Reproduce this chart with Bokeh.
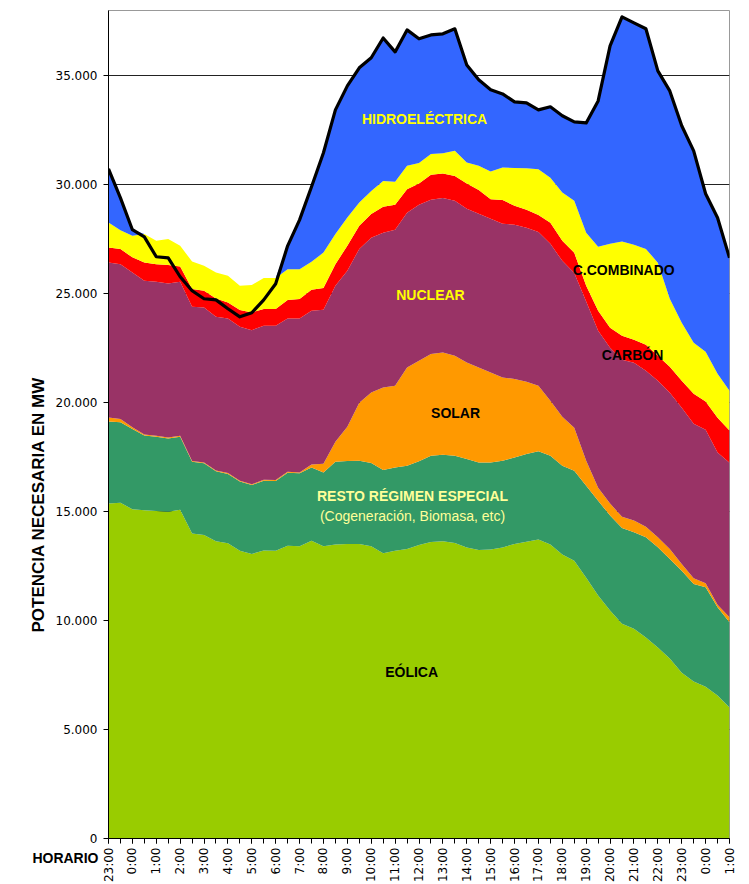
import math
from bokeh.plotting import figure
from bokeh.models import (ColumnDataSource, FixedTicker, Label, Range1d, LinearAxis, Title)
from bokeh.embed import file_html
from bokeh.resources import INLINE

# x-axis hour labels (one per hour, data every half hour)
HOUR_LABELS = ["23:00", "0:00", "1:00", "2:00", "3:00", "4:00", "5:00", "6:00", "7:00",
               "8:00", "9:00", "10:00", "11:00", "12:00", "13:00", "14:00", "15:00",
               "16:00", "17:00", "18:00", "19:00", "20:00", "21:00", "22:00", "23:00",
               "0:00", "1:00"]

# MW, half-hourly from 23:00 to 1:00 (53 points)
eolica = [15370, 15410, 15110, 15060, 15030, 15000, 15090, 14000, 13930, 13640, 13550, 13210,
          13060, 13220, 13210, 13440, 13410, 13670, 13410, 13490, 13520, 13520, 13410, 13090,
          13210, 13290, 13470, 13610, 13640, 13560, 13360, 13240, 13260, 13360, 13520, 13620,
          13720, 13490, 13030, 12750, 11970, 11150, 10460, 9860, 9630, 9220, 8760, 8260, 7610,
          7200, 6970, 6560, 6010]
resto = [3770, 3690, 3680, 3430, 3410, 3360, 3350, 3290, 3290, 3210, 3180, 3170, 3160, 3200,
         3200, 3350, 3350, 3360, 3390, 3800, 3810, 3820, 3820, 3820, 3820, 3820, 3840, 3960,
         3970, 4010, 4060, 4020, 4000, 3980, 3970, 4030, 4050, 4080, 4080, 4130, 4220, 4350,
         4360, 4390, 4420, 4610, 4610, 4570, 4680, 4480, 4560, 4050, 3910]
solar = [180, 150, 80, 50, 40, 40, 40, 40, 40, 40, 40, 40, 40, 40, 40, 40, 40, 130, 400, 920,
         1570, 2660, 3240, 3790, 3750, 4510, 4620, 4660, 4700, 4590, 4430, 4360, 4130, 3820,
         3600, 3310, 3010, 2520, 2250, 1970, 1150, 600, 550, 520, 540, 480, 450, 460, 310, 260,
         180, 120, 230]
nuclear = [7120, 7110, 7110, 7060, 7070, 7070, 7070, 7070, 7110, 7050, 7100, 7070, 7070, 7070,
           7080, 7040, 7070, 7060, 7070, 7160, 7160, 7060, 7100, 7100, 7160, 7100, 7150, 7080,
           7090, 7110, 7050, 7050, 7050, 7050, 7080, 7070, 7060, 7200, 7150, 7100, 7300, 7200,
           7150, 7200, 7240, 7160, 7190, 7170, 7170, 7100, 7050, 6980, 7100]
carbon = [680, 690, 690, 840, 810, 850, 700, 820, 770, 840, 730, 760, 810, 770, 770, 840, 890,
          960, 990, 990, 1140, 1060, 1090, 1190, 1140, 1080, 980, 1150, 1120, 1140, 1160, 1090,
          900, 1090, 870, 820, 780, 970, 920, 930, 730, 920, 920, 1100, 1060, 1190, 1150, 1190,
          1240, 1370, 1290, 1600, 1470]
ccombinado = [1150, 870, 990, 1300, 1070, 1190, 950, 1260, 1140, 1200, 1230, 1120, 1260, 1420,
              1420, 1420, 1370, 1290, 1630, 1380, 1300, 1070, 1060, 1190, 1060, 1070, 940, 950,
              930, 1150, 960, 1110, 1270, 1490, 1730, 1910, 2090, 2060, 2220, 2390, 2430, 2940,
              3850, 4330, 4360, 4400, 4260, 3120, 2660, 2340, 2290, 2020, 1830]
hidro = [2460, 1480, 280, 0, 0, 0, 0, 0, 0, 0, 0, 0, 0, 0, 0, 1070, 2260, 3440, 4580, 5700,
         6040, 6180, 6110, 6560, 5960, 6240, 5700, 5470, 5480, 5600, 4480, 3950, 3750, 3380,
         3040, 3000, 2730, 3260, 3520, 3620, 5040, 6690, 9090, 10310, 10180, 10100, 8810, 9540,
         9040, 8810, 7250, 7160, 6100]
demanda = [30730, 29400, 27940, 27610, 26700, 26650, 25780, 25140, 24770, 24720, 24310, 23940,
           24130, 24720, 25460, 27200, 28390, 29910, 31470, 33440, 34540, 35370, 35830, 36740,
           36100, 37110, 36700, 36880, 36930, 37160, 35500, 34820, 34360, 34170, 33810, 33760,
           33440, 33580, 33170, 32890, 32840, 33850, 36380, 37710, 37430, 37160, 35230, 34310,
           32710, 31560, 29590, 28490, 26650]

Y_TICKS = [0, 5000, 10000, 15000, 20000, 25000, 30000, 35000]
Y_LABELS = ["0", "5.000", "10.000", "15.000", "20.000", "25.000", "30.000", "35.000"]

STACK = ["eolica", "resto", "solar", "nuclear", "carbon", "ccombinado", "hidro"]
COLORS = ["#99CC00", "#339966", "#FF9900", "#993366", "#FF0000", "#FFFF00", "#3366FF"]

n = len(eolica)
x = [i * 0.5 for i in range(n)]
src = ColumnDataSource(dict(x=x, eolica=eolica, resto=resto, solar=solar, nuclear=nuclear,
                            carbon=carbon, ccombinado=ccombinado, hidro=hidro, demanda=demanda))

p = figure(frame_width=621, frame_height=828, output_backend="svg", toolbar_location=None,
           x_range=Range1d(0, 26), y_range=Range1d(0, 38000),
           min_border_left=108, min_border_right=14, min_border_top=10, min_border_bottom=40)
p.background_fill_color = "white"
p.outline_line_color = "#999999"

p.varea_stack(stackers=STACK, x="x", color=COLORS, source=src)
p.line("x", "demanda", source=src, line_color="black", line_width=3.2, line_join="round")

# axes
p.xaxis.ticker = FixedTicker(ticks=list(range(len(HOUR_LABELS))),
                             minor_ticks=[i * 0.5 for i in range(n)])
p.xaxis.major_label_overrides = {i: lab for i, lab in enumerate(HOUR_LABELS)}
p.xaxis.major_label_orientation = math.pi / 2
p.xaxis.major_label_text_font = "DejaVu Sans"
p.xaxis.major_label_text_font_size = "12px"
p.xaxis.major_label_text_color = "black"
p.xaxis.major_label_standoff = 4
p.xaxis.major_tick_in = 0
p.xaxis.major_tick_out = 5
p.xaxis.minor_tick_in = 0
p.xaxis.minor_tick_out = 5
p.xaxis.axis_line_color = "black"
p.xaxis.major_tick_line_color = "black"
p.xaxis.minor_tick_line_color = "black"

p.yaxis.ticker = FixedTicker(ticks=Y_TICKS, minor_ticks=[])
p.yaxis.major_label_overrides = {t: l for t, l in zip(Y_TICKS, Y_LABELS)}
p.yaxis.major_label_text_font = "DejaVu Sans"
p.yaxis.major_label_text_font_size = "12px"
p.yaxis.major_label_text_color = "black"
p.yaxis.major_label_standoff = 6
p.yaxis.major_tick_in = 0
p.yaxis.major_tick_out = 5
p.yaxis.axis_line_color = "black"
p.yaxis.major_tick_line_color = "black"

p.xgrid.grid_line_color = None
p.ygrid.ticker = FixedTicker(ticks=Y_TICKS)
p.ygrid.grid_line_color = "#222222"
p.ygrid.grid_line_width = 1

FONT = "Liberation Sans"

# vertical axis title
p.add_layout(Title(text="POTENCIA NECESARIA EN  MW", align="left", offset=206,
                   text_font=FONT, text_font_size="17px", text_font_style="bold",
                   text_color="black"), "left")

# "HORARIO" caption at the level of the hour labels
hor_axis = LinearAxis(ticker=FixedTicker(ticks=[0], minor_ticks=[]),
                      major_label_overrides={0: "\n\nHORARIO"},
                      major_label_text_font=FONT, major_label_text_font_size="14px",
                      major_label_text_font_style="bold", major_label_text_color="black",
                      major_label_standoff=-77, major_tick_in=0, major_tick_out=0,
                      axis_line_color=None, major_tick_line_color=None)
p.add_layout(hor_axis, "left")


def add_label(xv, yv, text, color, size="14px", style="bold"):
    p.add_layout(Label(x=xv, y=yv, text=text, text_color=color, text_font=FONT,
                       text_font_size=size, text_font_style=style, text_align="center",
                       text_baseline="middle"))


add_label(13.23, 33030, "HIDROELÉCTRICA", "#FFFF00")
add_label(13.48, 24950, "NUCLEAR", "#FFFF00")
add_label(14.53, 19540, "SOLAR", "black")
add_label(12.73, 15730, "RESTO RÉGIMEN ESPECIAL", "#FFFF99")
add_label(12.73, 14820, "(Cogeneración, Biomasa, etc)", "#FFFF99", style="normal")
add_label(12.69, 7660, "EÓLICA", "black")
add_label(21.57, 26100, "C.COMBINADO", "black")
add_label(21.94, 22200, "CARBÓN", "black")

open("out.html", "w").write(file_html(p, INLINE))
